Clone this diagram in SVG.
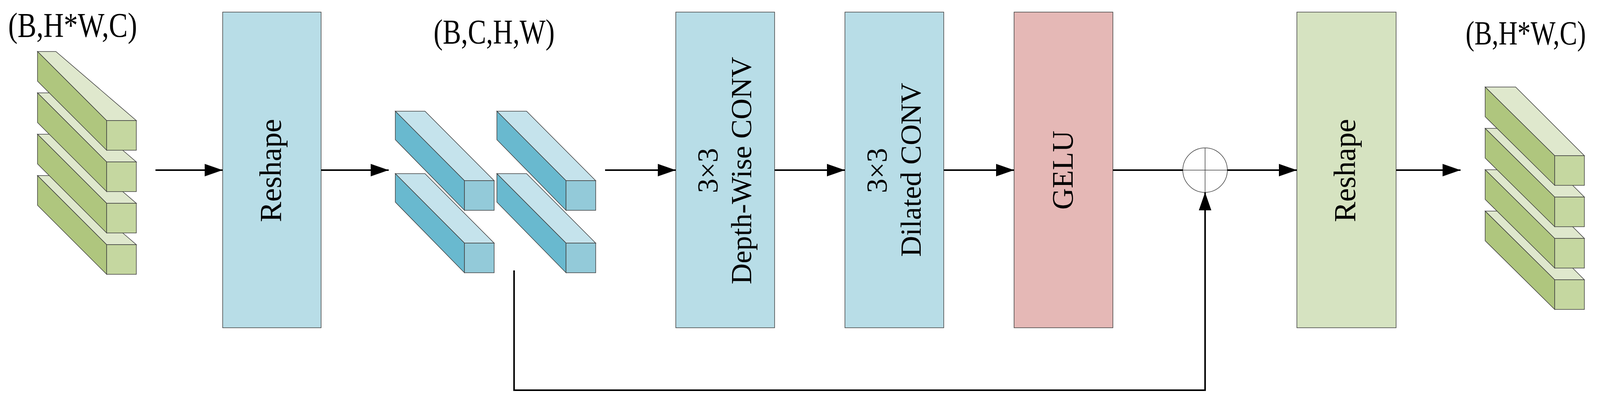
<svg xmlns="http://www.w3.org/2000/svg" width="4115" height="1020" viewBox="0 0 4115 1020">
<style>
.t{font-family:"Liberation Serif","Times New Roman",serif;fill:#000}
.box{stroke:#404040;stroke-width:1.5}
.g1{fill:#dfe8cd;stroke:#404040;stroke-width:1.5}
.g2{fill:#afc67e;stroke:#404040;stroke-width:1.5}
.g3{fill:#c5d7a0;stroke:#404040;stroke-width:1.5}
.b1{fill:#c5e3ec;stroke:#404040;stroke-width:1.5}
.b2{fill:#69b9cf;stroke:#404040;stroke-width:1.5}
.b3{fill:#93cad9;stroke:#404040;stroke-width:1.5}
.ln{stroke:#000;stroke-width:4;fill:none}
</style>
<defs>
<marker id="ah" markerUnits="userSpaceOnUse" markerWidth="48" markerHeight="32" refX="46" refY="16" orient="auto">
<path d="M0,0 L46,16 L0,32 Z" fill="#000"/>
</marker>
<g id="gbar">
<polygon class="g1" points="96,132 143,132 349,309 273,309"/>
<polygon class="g2" points="96,132 273,309 273,385 96,208"/>
<rect class="g3" x="273" y="309" width="76" height="76"/>
</g>
<g id="gbarR">
<polygon class="g1" points="3802,223 3880,223 4056,399 3980,399"/>
<polygon class="g2" points="3802,223 3980,399 3980,475 3802,299"/>
<rect class="g3" x="3980" y="399" width="76" height="76"/>
</g>
<g id="bbar">
<polygon class="b1" points="1012,285 1088,285 1265,463 1189,463"/>
<polygon class="b2" points="1012,285 1189,463 1189,539 1012,358"/>
<rect class="b3" x="1189" y="463" width="76" height="76"/>
</g>
</defs>

<g id="input">
<text class="t" x="21" y="94" font-size="88" textLength="330" lengthAdjust="spacingAndGlyphs">(B,H*W,C)</text>
<use href="#gbar" y="318"/><use href="#gbar" y="212"/><use href="#gbar" y="106"/><use href="#gbar"/>
</g>

<g id="reshape1">
<rect class="box" x="570" y="31" width="252" height="809" fill="#b8dde7"/>
<text class="t" font-size="78" text-anchor="middle" transform="translate(719,437) rotate(-90)">Reshape</text>
</g>

<g id="feature">
<text class="t" x="1110" y="111" font-size="88" textLength="310" lengthAdjust="spacingAndGlyphs">(B,C,H,W)</text>
<use href="#bbar" y="160"/><use href="#bbar"/>
<use href="#bbar" x="260" y="160"/><use href="#bbar" x="260"/>
</g>

<g id="dwconv">
<rect class="box" x="1730" y="31" width="253" height="809" fill="#b8dde7"/>
<text class="t" font-size="74" text-anchor="middle" transform="translate(1837,437) rotate(-90)">3×3</text>
<text class="t" font-size="74" text-anchor="middle" transform="translate(1923,437) rotate(-90)">Depth-Wise CONV</text>
</g>

<g id="dilconv">
<rect class="box" x="2163" y="31" width="253" height="809" fill="#b8dde7"/>
<text class="t" font-size="74" text-anchor="middle" transform="translate(2270,437) rotate(-90)">3×3</text>
<text class="t" font-size="74" text-anchor="middle" transform="translate(2357,435) rotate(-90)">Dilated CONV</text>
</g>

<g id="gelu">
<rect class="box" x="2596" y="31" width="253" height="809" fill="#e5b8b6"/>
<text class="t" font-size="76" text-anchor="middle" transform="translate(2746,436) rotate(-90)">GELU</text>
</g>

<g id="add">
<circle cx="3085" cy="436" r="57" fill="#fff" stroke="#404040" stroke-width="1.5"/>
<line x1="3028" y1="436" x2="3142" y2="436" stroke="#404040" stroke-width="1.5"/>
<line x1="3085" y1="379" x2="3085" y2="493" stroke="#404040" stroke-width="1.5"/>
</g>

<g id="reshape2">
<rect class="box" x="3320" y="31" width="254" height="809" fill="#d6e3c1"/>
<text class="t" font-size="78" text-anchor="middle" transform="translate(3469,437) rotate(-90)">Reshape</text>
</g>

<g id="output">
<text class="t" x="3752" y="114" font-size="86" textLength="308" lengthAdjust="spacingAndGlyphs">(B,H*W,C)</text>
<use href="#gbarR" y="318"/><use href="#gbarR" y="212"/><use href="#gbarR" y="106"/><use href="#gbarR"/>
</g>

<g id="connectors">
<line class="ln" x1="398" y1="436" x2="570" y2="436" marker-end="url(#ah)"/>
<line class="ln" x1="822" y1="436" x2="995" y2="436" marker-end="url(#ah)"/>
<line class="ln" x1="1549" y1="436" x2="1730" y2="436" marker-end="url(#ah)"/>
<line class="ln" x1="1983" y1="436" x2="2163" y2="436" marker-end="url(#ah)"/>
<line class="ln" x1="2416" y1="436" x2="2596" y2="436" marker-end="url(#ah)"/>
<line class="ln" x1="2849" y1="436" x2="3028" y2="436"/>
<line class="ln" x1="3142" y1="436" x2="3320" y2="436" marker-end="url(#ah)"/>
<line class="ln" x1="3574" y1="436" x2="3739" y2="436" marker-end="url(#ah)"/>
<polyline class="ln" points="1316,693 1316,1000 3085,1000 3085,493" marker-end="url(#ah)"/>
</g>
</svg>
